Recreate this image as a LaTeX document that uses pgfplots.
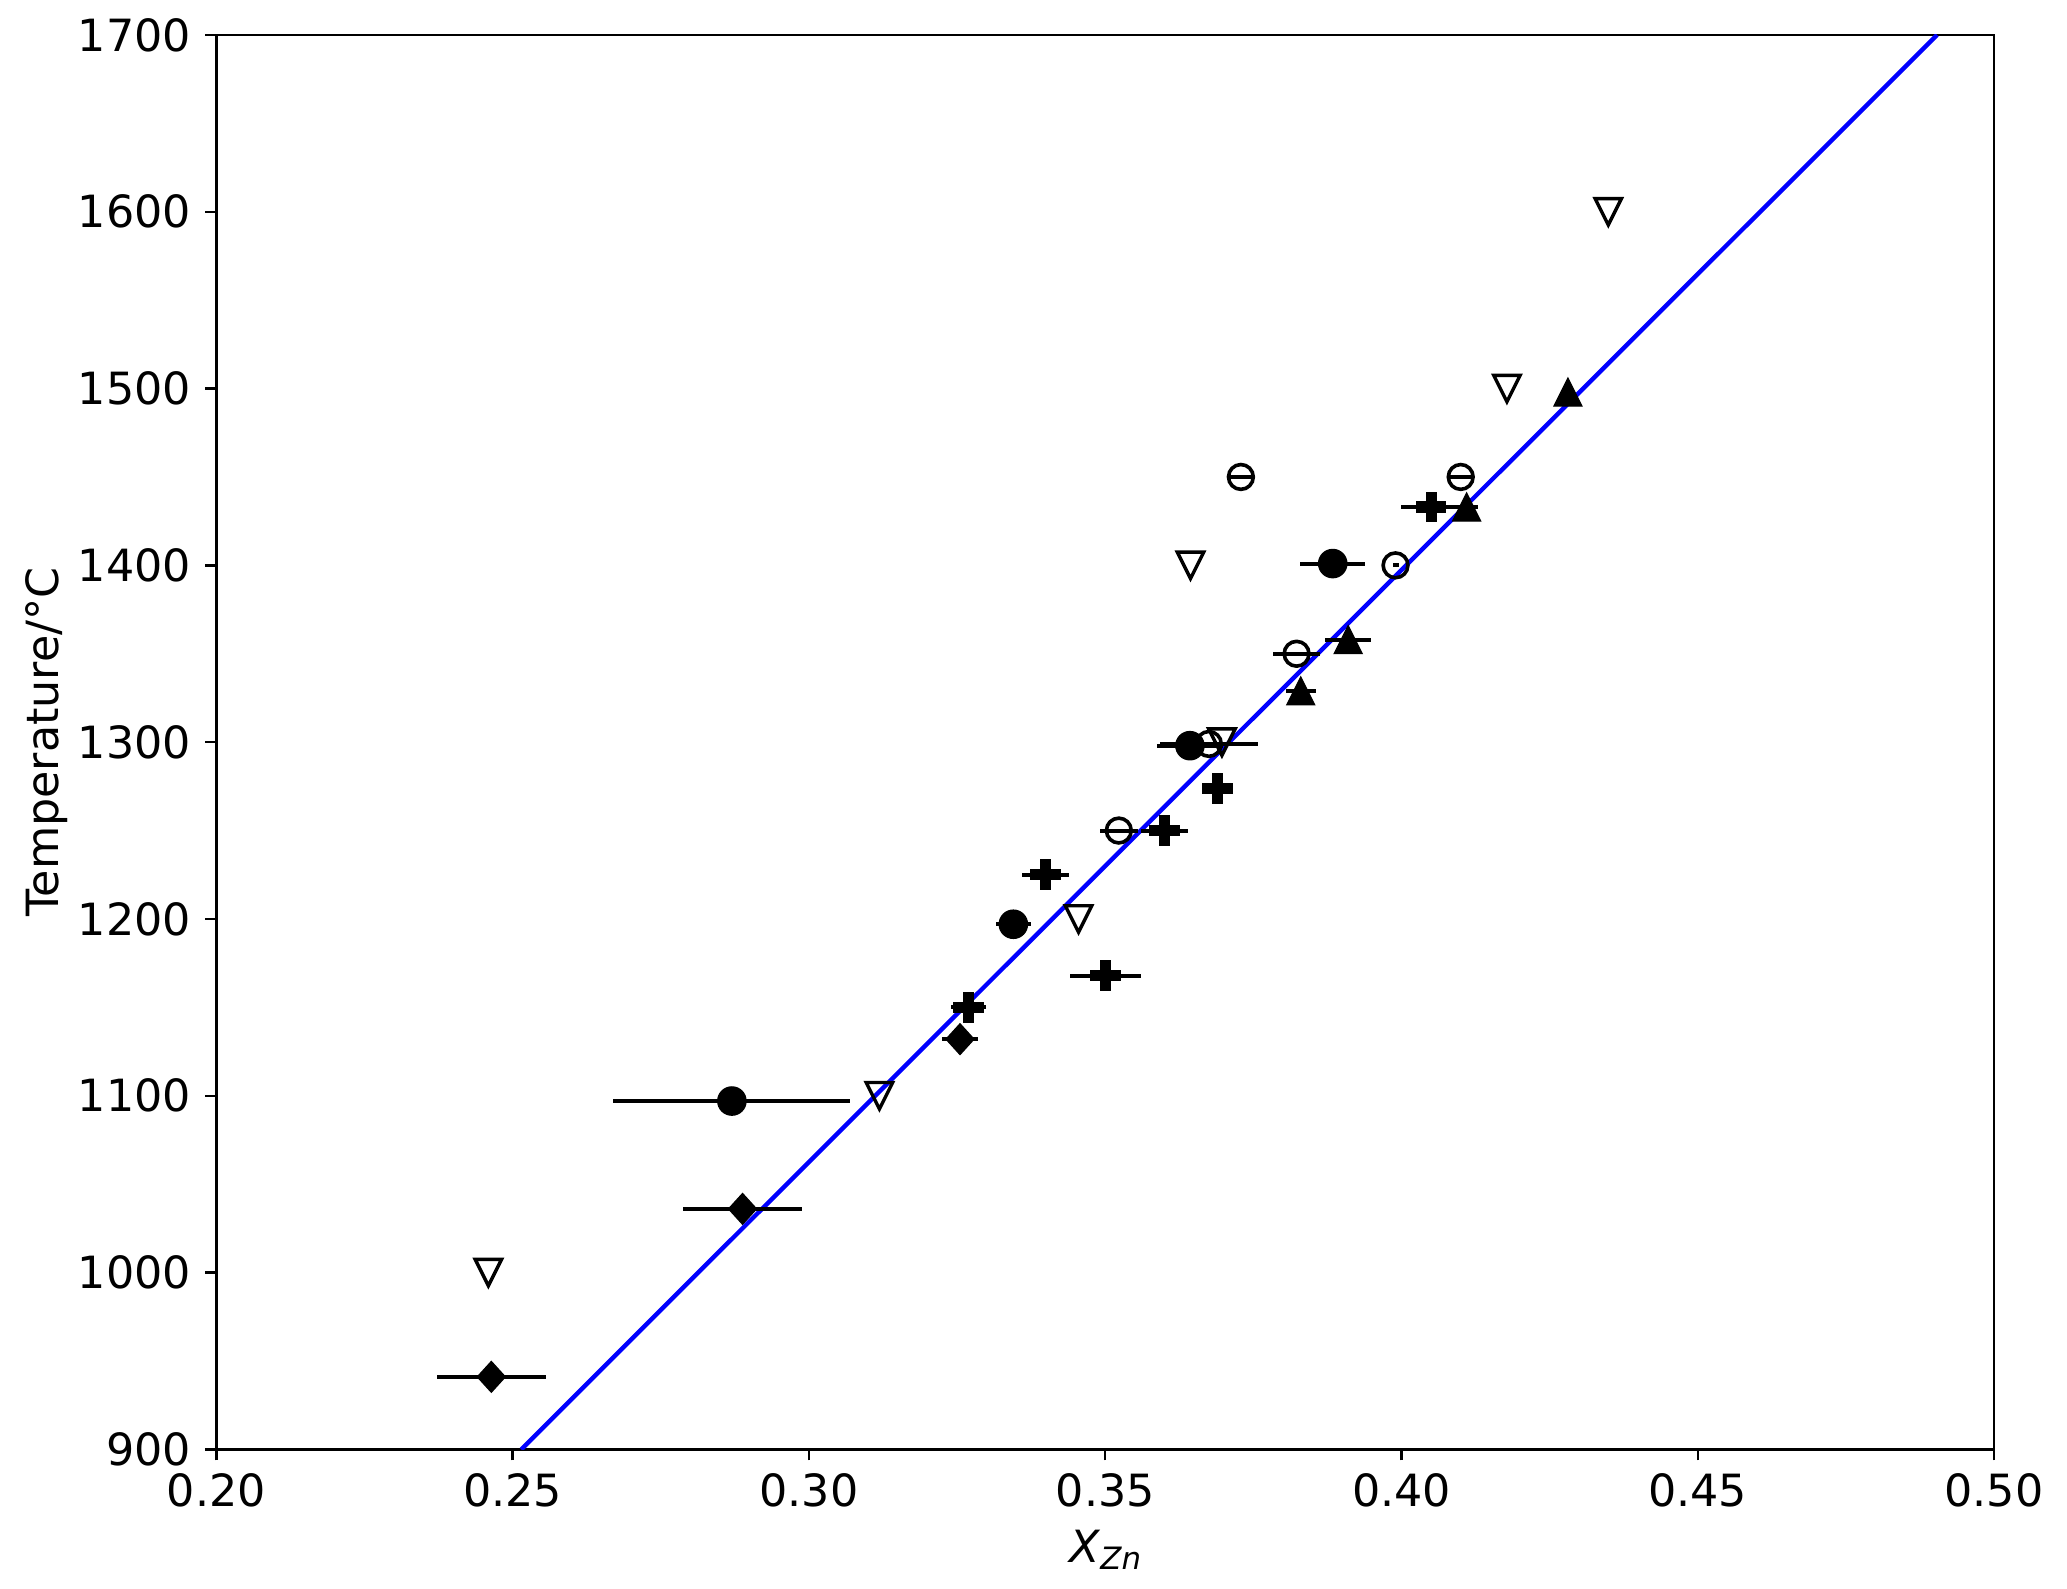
\documentclass[border=0pt]{standalone}
\usepackage{fontspec}
\setmainfont{DejaVu Sans}
\usepackage{pgfplots}
\pgfplotsset{compat=1.18}

\pgfdeclareplotmark{mtriup}{%
  \pgfpathmoveto{\pgfqpoint{0pt}{\pgfplotmarksize}}%
  \pgfpathlineto{\pgfqpoint{-\pgfplotmarksize}{-\pgfplotmarksize}}%
  \pgfpathlineto{\pgfqpoint{\pgfplotmarksize}{-\pgfplotmarksize}}%
  \pgfpathclose\pgfusepathqfillstroke}
\pgfdeclareplotmark{mtridown}{%
  \pgfpathmoveto{\pgfqpoint{0pt}{-\pgfplotmarksize}}%
  \pgfpathlineto{\pgfqpoint{-\pgfplotmarksize}{\pgfplotmarksize}}%
  \pgfpathlineto{\pgfqpoint{\pgfplotmarksize}{\pgfplotmarksize}}%
  \pgfpathclose\pgfusepathqstroke}
\pgfdeclareplotmark{mdiam}{%
  \pgfpathmoveto{\pgfqpoint{0pt}{1.1\pgfplotmarksize}}%
  \pgfpathlineto{\pgfqpoint{\pgfplotmarksize}{0pt}}%
  \pgfpathlineto{\pgfqpoint{0pt}{-1.1\pgfplotmarksize}}%
  \pgfpathlineto{\pgfqpoint{-\pgfplotmarksize}{0pt}}%
  \pgfpathclose\pgfusepathqfillstroke}
\pgfdeclareplotmark{mplus}{%
  \pgfpathmoveto{\pgfqpoint{-0.3333\pgfplotmarksize}{-\pgfplotmarksize}}%
  \pgfpathlineto{\pgfqpoint{0.3333\pgfplotmarksize}{-\pgfplotmarksize}}%
  \pgfpathlineto{\pgfqpoint{0.3333\pgfplotmarksize}{-0.3333\pgfplotmarksize}}%
  \pgfpathlineto{\pgfqpoint{\pgfplotmarksize}{-0.3333\pgfplotmarksize}}%
  \pgfpathlineto{\pgfqpoint{\pgfplotmarksize}{0.3333\pgfplotmarksize}}%
  \pgfpathlineto{\pgfqpoint{0.3333\pgfplotmarksize}{0.3333\pgfplotmarksize}}%
  \pgfpathlineto{\pgfqpoint{0.3333\pgfplotmarksize}{\pgfplotmarksize}}%
  \pgfpathlineto{\pgfqpoint{-0.3333\pgfplotmarksize}{\pgfplotmarksize}}%
  \pgfpathlineto{\pgfqpoint{-0.3333\pgfplotmarksize}{0.3333\pgfplotmarksize}}%
  \pgfpathlineto{\pgfqpoint{-\pgfplotmarksize}{0.3333\pgfplotmarksize}}%
  \pgfpathlineto{\pgfqpoint{-\pgfplotmarksize}{-0.3333\pgfplotmarksize}}%
  \pgfpathlineto{\pgfqpoint{-0.3333\pgfplotmarksize}{-0.3333\pgfplotmarksize}}%
  \pgfpathclose\pgfusepathqfillstroke}

\pgfplotstableread{
x y ex
0.2870 1097 0.0200
0.3345 1197 0.0030
0.3643 1298 0.0055
0.3884 1401 0.0055
}\filledcircles
\pgfplotstableread{
x y ex
0.3523 1250 0.0032
0.3675 1299 0.0083
0.3823 1350 0.0040
0.3990 1400 0.0005
0.3729 1450 0.0020
0.4100 1450 0.0020
}\opencircles
\pgfplotstableread{
x y
0.2459 1000
0.3119 1100
0.3455 1200
0.3697 1300
0.3644 1400
0.4178 1500
0.4349 1600
}\downtri
\pgfplotstableread{
x y ex
0.3830 1329 0.0025
0.3910 1358 0.0039
0.4110 1433 0.0020
0.4281 1498 0.0000
}\uptri
\pgfplotstableread{
x y ex
0.3269 1150 0.0030
0.3500 1168 0.0060
0.3399 1225 0.0040
0.3600 1250 0.0039
0.3690 1274 0.0010
0.4050 1433 0.0050
}\pluses
\pgfplotstableread{
x y ex
0.2464 941 0.0092
0.2888 1036 0.0100
0.3255 1132 0.0030
}\diamonds

\begin{document}
\fontsize{11.1}{13.3}\selectfont
\begin{tikzpicture}
\begin{axis}[
  scale only axis, width=444.4pt, height=353.6pt,
  xmin=0.2, xmax=0.5, ymin=900, ymax=1700,
  xtick={0.20,0.25,0.30,0.35,0.40,0.45,0.50},
  xticklabels={0.20,0.25,0.30,0.35,0.40,0.45,0.50},
  ytick={900,1000,1100,1200,1300,1400,1500,1600,1700},
  yticklabels={900,1000,1100,1200,1300,1400,1500,1600,1700},
  xtick pos=lower, ytick pos=left,
  tick align=outside, major tick length=2.75pt,
  tick style={line width=0.6pt, black},
  axis line style={line width=0.6pt},
  every tick label/.append style={font=\fontsize{11.1}{13.3}\selectfont},
  xticklabel style={inner sep=0pt, anchor=north, yshift=-3.15pt},
  yticklabel style={inner sep=0pt, anchor=east, xshift=-3.45pt},
  xlabel={\textit{X}\raisebox{-1.8pt}{\fontsize{7.7}{9}\selectfont\textit{Zn}}},
  xlabel style={at={(axis description cs:0.5,-0.0797)}, anchor=base, inner sep=0pt, font=\fontsize{11.1}{13.3}\selectfont},
  ylabel={Temperature/°C},
  ylabel style={at={(axis description cs:-0.0890,0.5)}, rotate=0, anchor=base, inner sep=0pt, font=\fontsize{11.1}{13.3}\selectfont},
  error bars/error bar style={line width=1pt, black},
  error bars/error mark=none,
]
\addplot[blue, line width=1.1pt] coordinates {(0.25146,900) (0.4904,1700)};

\addplot[only marks, mark=*, mark size=3.55pt, mark options={fill=black, draw=black, line width=0.3pt},
  error bars/.cd, x dir=both, x explicit]
  table[x=x, y=y, x error=ex] {\filledcircles};
\addplot[only marks, mark=o, mark size=3.1pt, mark options={draw=black, fill=none, line width=0.9pt},
  error bars/.cd, x dir=both, x explicit]
  table[x=x, y=y, x error=ex] {\opencircles};
\addplot[only marks, mark=mtridown, mark size=3.3pt, mark options={draw=black, line width=0.85pt, line join=miter}]
  table[x=x, y=y] {\downtri};
\addplot[only marks, mark=mtriup, mark size=3.5pt, mark options={fill=black, draw=black, line width=0.3pt},
  error bars/.cd, x dir=both, x explicit]
  table[x=x, y=y, x error=ex] {\uptri};
\addplot[only marks, mark=mplus, mark size=3.7pt, mark options={fill=black, draw=black, line width=0.3pt},
  error bars/.cd, x dir=both, x explicit]
  table[x=x, y=y, x error=ex] {\pluses};
\addplot[only marks, mark=mdiam, mark size=3.5pt, mark options={fill=black, draw=black, line width=0.3pt},
  error bars/.cd, x dir=both, x explicit]
  table[x=x, y=y, x error=ex] {\diamonds};
\end{axis}
\path (current axis.south west) ++(-54.1pt,-34.9pt) coordinate (bl);
\path (current axis.north east) ++(18.25pt,8.75pt) coordinate (tr);
\pgfresetboundingbox
\path[use as bounding box] (bl) rectangle (tr);
\end{tikzpicture}
\end{document}
